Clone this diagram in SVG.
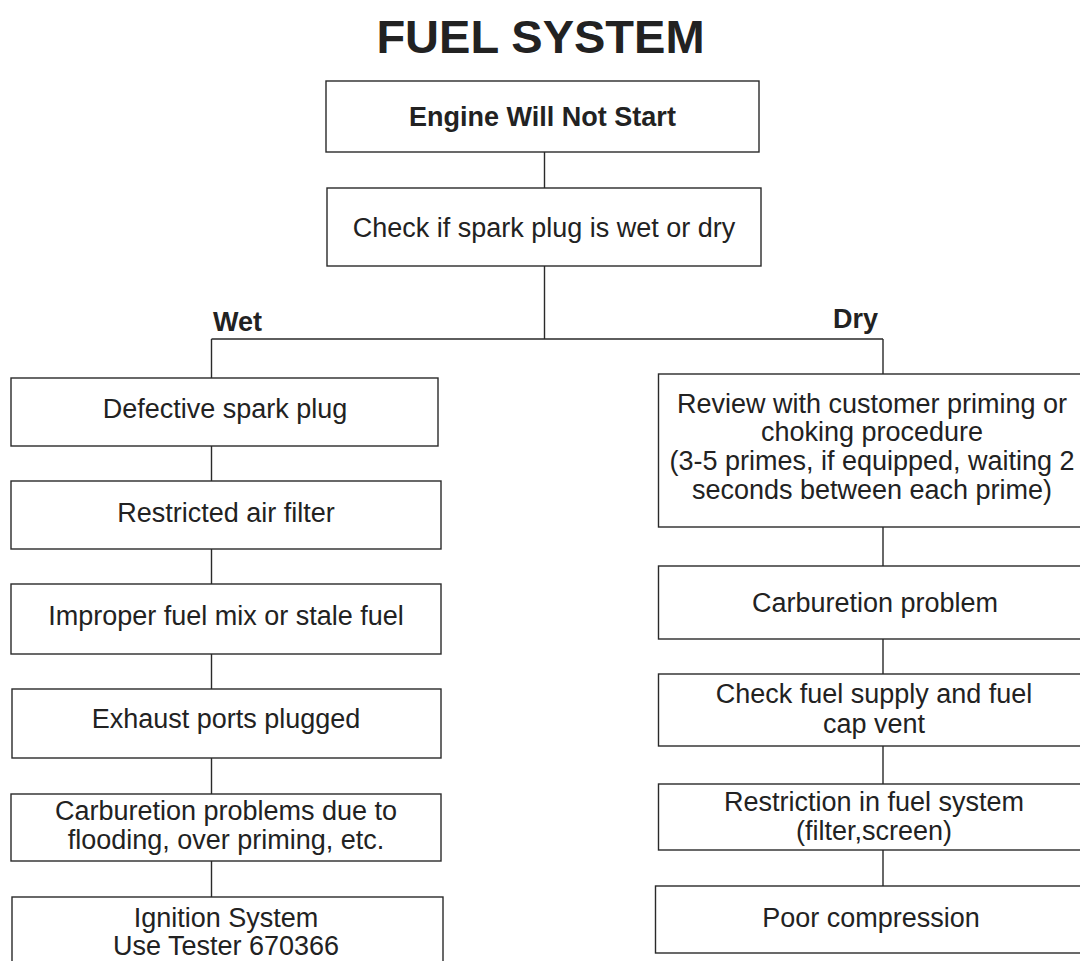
<svg xmlns="http://www.w3.org/2000/svg" width="1080" height="961" viewBox="0 0 1080 961">
<style>
.box{fill:#fff;stroke:#2a2a2a;stroke-width:1.4}
.t{font-family:"Liberation Sans",Arial,sans-serif;font-size:27px;fill:#222;text-anchor:middle}
.b{font-weight:bold}
.ln{fill:none;stroke:#2a2a2a;stroke-width:1.4}
</style>
<rect width="1080" height="961" fill="#fff"/>
<text class="t b" x="540.5" y="53" style="font-size:47px">FUEL SYSTEM</text>
<g id="connectors">
<path class="ln" d="M544.5 152V188M544.5 266V339M211.5 339H883M211.5 339V378M883 339V374"/>
<path class="ln" d="M211.5 446V481M211.5 549V584M211.5 654V689M211.5 758V794M211.5 861V897"/>
<path class="ln" d="M883 527V566M883 639V674M883 746V784M883 850V886"/>
</g>
<g id="n-start"><rect class="box" x="326" y="81" width="433" height="71"/><text class="t b" x="542.5" y="126">Engine Will Not Start</text></g>
<g id="n-check"><rect class="box" x="327" y="188" width="434" height="78"/><text class="t" x="544" y="237">Check if spark plug is wet or dry</text></g>
<g id="l-wet"><text class="t b" x="213" y="331" style="text-anchor:start">Wet</text></g>
<g id="l-dry"><text class="t b" x="878" y="328" style="text-anchor:end">Dry</text></g>
<g id="n-defective"><rect class="box" x="11" y="378" width="427" height="68"/><text class="t" x="225" y="418">Defective spark plug</text></g>
<g id="n-air"><rect class="box" x="11" y="481" width="430" height="68"/><text class="t" x="226" y="522">Restricted air filter</text></g>
<g id="n-fuelmix"><rect class="box" x="11" y="584" width="430" height="70"/><text class="t" x="226" y="625">Improper fuel mix or stale fuel</text></g>
<g id="n-exhaust"><rect class="box" x="12" y="689" width="429" height="69"/><text class="t" x="226" y="728">Exhaust ports plugged</text></g>
<g id="n-flooding"><rect class="box" x="11" y="794" width="430" height="67"/><text class="t" x="226" y="820">Carburetion problems due to</text><text class="t" x="226" y="849">flooding, over priming, etc.</text></g>
<g id="n-ignition"><rect class="box" x="12" y="897" width="431" height="80"/><text class="t" x="226" y="927">Ignition System</text><text class="t" x="226" y="955">Use Tester 670366</text></g>
<g id="n-review"><rect class="box" x="658.5" y="374" width="430" height="153"/><text class="t" x="872" y="413">Review with customer priming or</text><text class="t" x="872" y="441">choking procedure</text><text class="t" x="872" y="470">(3-5 primes, if equipped, waiting 2</text><text class="t" x="872" y="499">seconds between each prime)</text></g>
<g id="n-carb"><rect class="box" x="658.5" y="566" width="430" height="73"/><text class="t" x="875" y="612">Carburetion problem</text></g>
<g id="n-supply"><rect class="box" x="658.5" y="674" width="430" height="72"/><text class="t" x="874" y="703">Check fuel supply and fuel</text><text class="t" x="874" y="733">cap vent</text></g>
<g id="n-restriction"><rect class="box" x="658.5" y="784" width="430" height="66"/><text class="t" x="874" y="811">Restriction in fuel system</text><text class="t" x="874" y="840">(filter,screen)</text></g>
<g id="n-compression"><rect class="box" x="655.5" y="886" width="433" height="67"/><text class="t" x="871" y="927">Poor compression</text></g>
</svg>
